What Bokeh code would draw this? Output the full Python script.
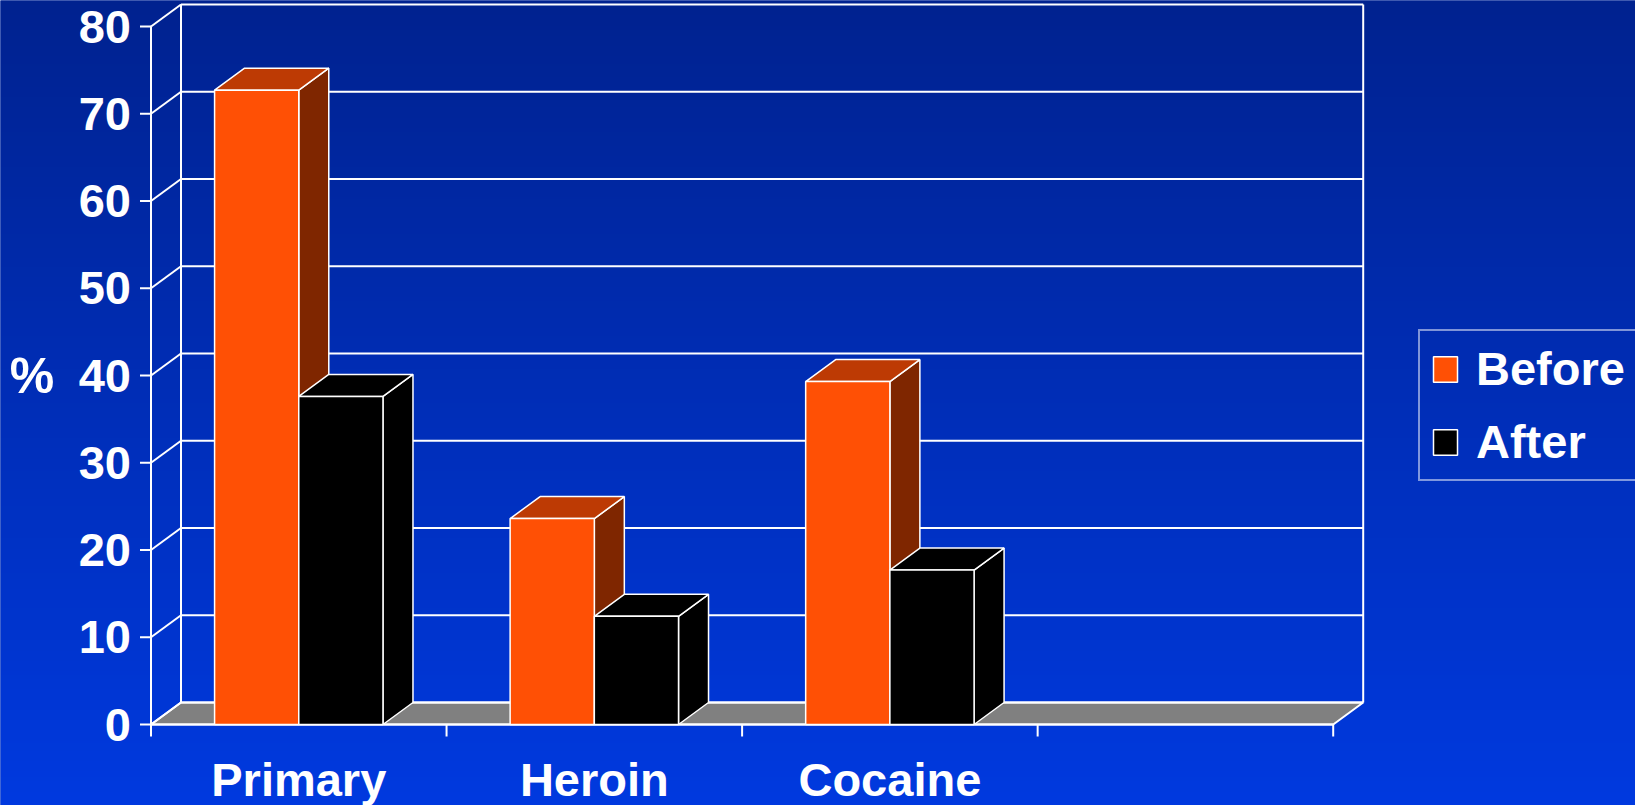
import numpy as np
from bokeh.plotting import figure
from bokeh.models import Range1d, Legend, LegendItem, ColumnDataSource
from bokeh.core.properties import value
from bokeh.embed import file_html
from bokeh.resources import INLINE

# ---------------- data ----------------
categories = ["Primary", "Heroin", "Cocaine"]
series_names = ["Before", "After"]
before = [72.7, 23.6, 39.3]
after = [37.6, 12.4, 17.7]
y_ticks = [0, 10, 20, 30, 40, 50, 60, 70, 80]
y_tick_labels = ["0", "10", "20", "30", "40", "50", "60", "70", "80"]
n_slots = 4          # the category axis has one empty slot at the right
y_max = 80
y_title = "%"

# ---------------- layout / style ----------------
W, H = 1635, 805
SX = 295.55          # px per category slot
SY = 8.725           # px per percent unit
X0_PX = 150.5        # screen x of front axis
Y0_PX = 724          # screen y (from top) of front baseline
X_START = -X0_PX / SX
X_END = X_START + W / SX
Y_START = -(H - Y0_PX) / SY
Y_END = Y_START + H / SY
DX = 30 / SX         # depth offset
DY = 22 / SY
BAR_W = 84.2 / SX
FONT = value("Liberation Sans")
WHITE = "#ffffff"

front_cols = ["#ff5005", "#000000"]
top_cols = ["#bd3a04", "#000000"]
side_cols = ["#7f2600", "#000000"]

top_rgb = np.array([0, 34, 143])
bot_rgb = np.array([0, 58, 224])

p = figure(width=W, height=H, x_range=Range1d(X_START, X_END), y_range=Range1d(Y_START, Y_END),
           output_backend="svg", toolbar_location=None, min_border=0,
           x_axis_type=None, y_axis_type=None, outline_line_color=None,
           background_fill_color="#002aa8", border_fill_color="#002aa8")

# background gradient (slightly oversized so no edge shows)
rows = 400
t = np.linspace(0, 1, rows)[:, None]  # row 0 = bottom
cols = bot_rgb[None, :] * (1 - t) + top_rgb[None, :] * t
img = np.zeros((rows, 2, 4), dtype=np.uint8)
img[:, :, 0] = cols[:, 0:1]
img[:, :, 1] = cols[:, 1:2]
img[:, :, 2] = cols[:, 2:3]
img[:, :, 3] = 255
pad_x = 6 / SX
pad_y = 6 / SY
p.image_rgba(image=[img.view(dtype=np.uint32).reshape(rows, 2)], x=X_START - pad_x,
             y=Y_START - pad_y, dw=X_END - X_START + 2 * pad_x, dh=Y_END - Y_START + 2 * pad_y)

# floor
p.patch([0, n_slots, n_slots + DX, DX], [0, 0, DY, DY], fill_color="#808080",
        line_color=WHITE, line_width=2)

# back wall gridlines, left wall diagonals
yt = np.array(y_ticks, dtype=float)
p.segment(x0=[DX] * len(yt), y0=yt + DY, x1=[n_slots + DX] * len(yt), y1=yt + DY,
          line_color=WHITE, line_width=2)
p.segment(x0=[0] * len(yt), y0=yt, x1=[DX] * len(yt), y1=yt + DY,
          line_color=WHITE, line_width=2)
# wall verticals and front axis
p.segment(x0=[DX, n_slots + DX, 0], y0=[DY, DY, 0], x1=[DX, n_slots + DX, 0],
          y1=[y_max + DY, y_max + DY, y_max], line_color=WHITE, line_width=2)
# front baseline
p.segment(x0=[0], y0=[0], x1=[n_slots], y1=[0], line_color=WHITE, line_width=2)
# y ticks
p.segment(x0=[-11 / SX] * len(yt), y0=yt, x1=[0] * len(yt), y1=yt, line_color=WHITE, line_width=2)
# x ticks
xs_t = list(range(n_slots + 1))
p.segment(x0=xs_t, y0=[0] * len(xs_t), x1=xs_t, y1=[-12 / SY] * len(xs_t),
          line_color=WHITE, line_width=2)

# bars
fronts = []
for s, vals in enumerate([before, after]):
    xl = np.arange(len(categories)) + 0.5 - BAR_W + s * BAR_W
    xr = xl + BAR_W
    v = np.array(vals, dtype=float)
    side_xs = [[a, a + DX, a + DX, a] for a in xr]
    side_ys = [[0, DY, h + DY, h] for h in v]
    p.patches(side_xs, side_ys, fill_color=side_cols[s], line_color=WHITE, line_width=1.5)
    top_xs = [[a, b, b + DX, a + DX] for a, b in zip(xl, xr)]
    top_ys = [[h, h, h + DY, h + DY] for h in v]
    p.patches(top_xs, top_ys, fill_color=top_cols[s], line_color=WHITE, line_width=1.5)
    src = ColumnDataSource(dict(left=xl, right=xr, top=v, bottom=np.zeros(len(v))))
    r = p.quad(left="left", right="right", top="top", bottom="bottom", source=src,
               fill_color=front_cols[s], line_color=WHITE, line_width=1.5)
    fronts.append(r)

# tick labels
p.text(x=[0] * len(yt), y=yt, text=y_tick_labels, x_offset=-20, text_align="right",
       text_baseline="middle", text_font=FONT, text_font_size="47px",
       text_font_style="bold", text_color=WHITE)
# y title
p.text(x=[0], y=[40], text=[y_title], x_offset=-119, text_align="center",
       text_baseline="middle", text_font=FONT, text_font_size="50px",
       text_font_style="bold", text_color=WHITE)
# category labels
p.text(x=list(np.arange(len(categories)) + 0.5), y=[0] * len(categories), text=categories,
       y_offset=55, text_align="center", text_baseline="middle", text_font=FONT,
       text_font_size="47px", text_font_style="bold", text_color=WHITE)

legend = Legend(items=[LegendItem(label=series_names[i], renderers=[fronts[i]]) for i in range(2)],
                location=(1418, 324), orientation="vertical",
                label_text_font="Liberation Sans", label_text_font_size="47px",
                label_text_font_style="bold", label_text_color=WHITE,
                glyph_width=30, glyph_height=32, label_standoff=16,
                padding=10, spacing=18, margin=0,
                border_line_color=WHITE, border_line_width=2,
                background_fill_alpha=0)
p.add_layout(legend)

open("out.html", "w").write(file_html(p, INLINE))
